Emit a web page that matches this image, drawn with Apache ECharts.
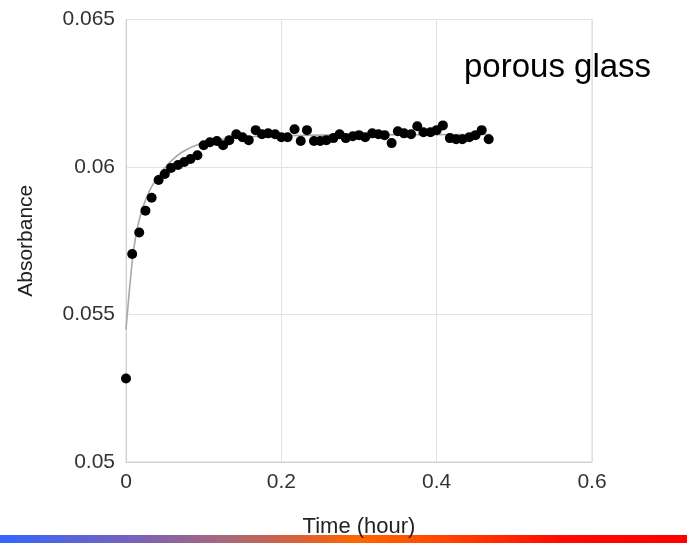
<!DOCTYPE html>
<html>
<head>
<meta charset="utf-8">
<script src="https://cdn.jsdelivr.net/npm/echarts@6/dist/echarts.min.js"></script>
<style>
  html, body { margin: 0; padding: 0; background: #fff; }
  #chart { width: 687px; height: 543px; }
</style>
</head>
<body>
<div id="chart"></div>
<script>
  // measured points (time in hours, absorbance)
  var timeHours = [
    0, 0.008, 0.017, 0.025, 0.033, 0.042, 0.050, 0.058, 0.067, 0.075,
    0.083, 0.092, 0.100, 0.108, 0.117, 0.125, 0.133, 0.142, 0.150, 0.158,
    0.167, 0.175, 0.183, 0.192, 0.200, 0.208, 0.217, 0.225, 0.233, 0.242,
    0.250, 0.258, 0.267, 0.275, 0.283, 0.292, 0.300, 0.308, 0.317, 0.325,
    0.333, 0.342, 0.350, 0.358, 0.367, 0.375, 0.383, 0.392, 0.400, 0.408,
    0.417, 0.425, 0.433, 0.442, 0.450, 0.458, 0.467
  ]
  var absorbance = [
    0.05283, 0.05705, 0.05778, 0.05852, 0.05896, 0.05956, 0.05976, 0.05997, 0.06007, 0.06017,
    0.06027, 0.06040, 0.06074, 0.06084, 0.06088, 0.06074, 0.06091, 0.06111, 0.06101, 0.06091,
    0.06125, 0.06111, 0.06114, 0.06111, 0.06101, 0.06101, 0.06128, 0.06088, 0.06125, 0.06088,
    0.06088, 0.06091, 0.06098, 0.06111, 0.06098, 0.06104, 0.06108, 0.06101, 0.06114, 0.06111,
    0.06108, 0.06081, 0.06121, 0.06114, 0.06111, 0.06138, 0.06118, 0.06118, 0.06125, 0.06141,
    0.06098, 0.06094, 0.06094, 0.06101, 0.06108, 0.06125, 0.06094
  ]
  // fitted curve
  var fitTime = [0, 0.005, 0.01, 0.016, 0.023, 0.031, 0.04, 0.05, 0.06, 0.072, 0.085, 0.1, 0.12, 0.15, 0.2, 0.3, 0.47]
  var fitValue = [0.05449, 0.05600, 0.05722, 0.05810, 0.05873, 0.05923, 0.05963, 0.05997, 0.06025, 0.06050, 0.06068, 0.06082, 0.06093, 0.06101, 0.06106, 0.06109, 0.0611]

  var xTicks = [0, 0.2, 0.4, 0.6]
  var yTicks = [0.05, 0.055, 0.06, 0.065]

  var font = 'Liberation Sans, Arial, Helvetica, sans-serif'

  var points = timeHours.map(function (t, i) { return [t, absorbance[i]] })
  var fit = fitTime.map(function (t, i) { return [t, fitValue[i]] })

  var chart = echarts.init(document.getElementById('chart'), null, { renderer: 'canvas' })
  chart.setOption({
    animation: false,
    backgroundColor: '#fff',
    grid: {
      left: 126, right: 95, top: 19.5, bottom: 78.5,
      show: true, borderColor: '#d9d9d9', borderWidth: 1
    },
    xAxis: {
      type: 'value',
      min: xTicks[0], max: xTicks[xTicks.length - 1], interval: 0.2,
      name: 'Time (hour)', nameLocation: 'middle', nameGap: 54,
      nameTextStyle: { fontFamily: font, fontSize: 22, color: '#222' },
      axisLine: { show: true, lineStyle: { color: '#d0d0d0' } },
      axisTick: { show: false },
      splitLine: { lineStyle: { color: '#e2e2e2' } },
      axisLabel: {
        fontFamily: font, fontSize: 21, color: '#333', margin: 10,
        formatter: function (v) { return String(parseFloat(v.toFixed(2))) }
      }
    },
    yAxis: {
      type: 'value',
      min: yTicks[0], max: yTicks[yTicks.length - 1], interval: 0.005,
      name: 'Absorbance', nameLocation: 'middle', nameGap: 89,
      nameTextStyle: { fontFamily: font, fontSize: 21, color: '#222' },
      axisLine: { show: true, lineStyle: { color: '#d0d0d0' } },
      axisTick: { show: false },
      splitLine: { lineStyle: { color: '#e2e2e2' } },
      axisLabel: {
        fontFamily: font, fontSize: 21, color: '#333', margin: 11,
        formatter: function (v) { return String(parseFloat(v.toFixed(3))) }
      }
    },
    graphic: [
      {
        type: 'rect', z: -10, left: 0, top: 535,
        shape: { width: 687, height: 8 },
        style: {
          fill: new echarts.graphic.LinearGradient(0, 0, 1, 0, [
            { offset: 0, color: '#3366ff' },
            { offset: 0.2, color: '#7a62b8' },
            { offset: 0.33, color: '#a8687a' },
            { offset: 0.45, color: '#e06030' },
            { offset: 0.52, color: '#ff6600' },
            { offset: 0.65, color: '#ff4400' },
            { offset: 0.82, color: '#ff0a00' },
            { offset: 1, color: '#ff0000' }
          ])
        }
      },
      {
        type: 'text', left: 464, top: 51,
        style: { text: 'porous glass', font: '33px ' + font, fill: '#000' }
      }
    ],
    series: [
      {
        type: 'line', data: fit, smooth: 0.3,
        symbol: 'none', z: 1,
        lineStyle: { color: '#a8a8a8', width: 1.6 }
      },
      {
        type: 'scatter', data: points, symbol: 'circle', symbolSize: 10, z: 3,
        itemStyle: { color: '#000', opacity: 1 }
      }
    ]
  })
</script>
</body>
</html>
